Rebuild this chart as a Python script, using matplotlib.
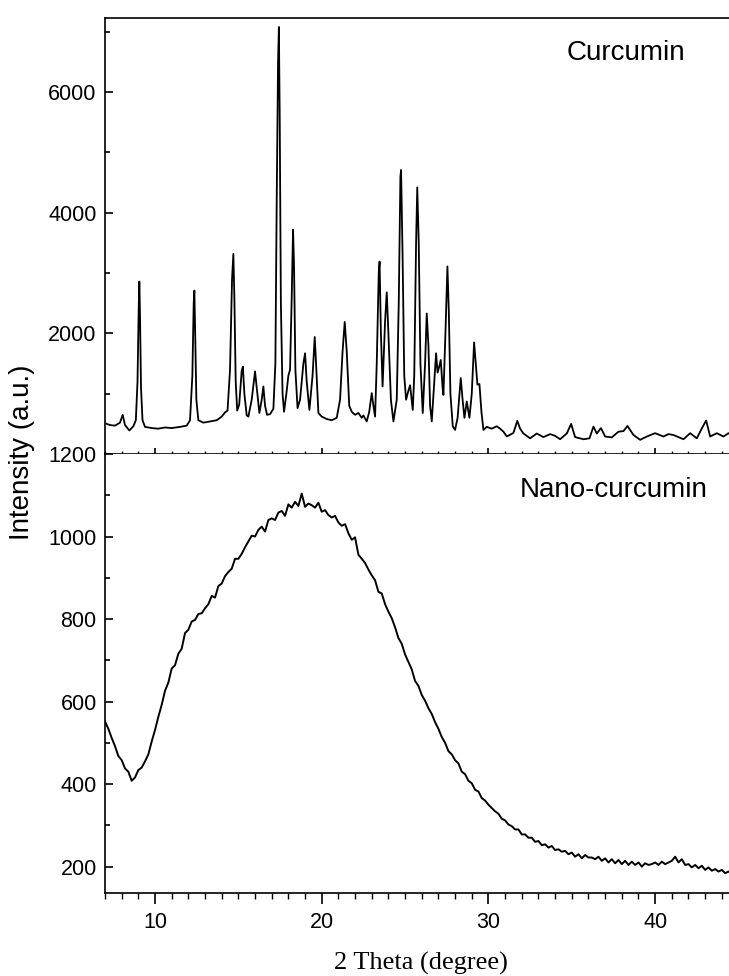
import numpy as np
import matplotlib
matplotlib.use("Agg")
import matplotlib.pyplot as plt
from matplotlib.ticker import MultipleLocator, FixedLocator

# ---------------- data ----------------
curcumin_theta = [7.0, 7.3, 7.6, 7.9, 8.06, 8.2, 8.46, 8.7, 8.85, 8.95, 9.02, 9.06, 9.1, 9.16, 9.25, 9.4,
                  9.8, 10.2, 10.6, 11.0, 11.5, 11.9, 12.1, 12.24, 12.32, 12.36, 12.41, 12.48, 12.6, 12.9,
                  13.3, 13.7, 14.0, 14.2, 14.35, 14.5, 14.62, 14.7, 14.76, 14.84, 14.93, 15.05, 15.2, 15.27,
                  15.36, 15.5, 15.6, 15.8, 16.0, 16.1, 16.26, 16.4, 16.5, 16.6, 16.72, 16.9, 17.1, 17.22,
                  17.3, 17.38, 17.43, 17.48, 17.55, 17.65, 17.74, 17.88, 18.0, 18.1, 18.2, 18.28, 18.34,
                  18.42, 18.55, 18.7, 18.9, 19.0, 19.1, 19.26, 19.45, 19.58, 19.66, 19.8, 20.0, 20.3, 20.6,
                  20.9, 21.1, 21.25, 21.38, 21.5, 21.65, 21.8, 22.0, 22.2, 22.4, 22.5, 22.7, 22.85, 23.0,
                  23.1, 23.2, 23.3, 23.42, 23.47, 23.55, 23.65, 23.8, 23.9, 24.0, 24.15, 24.3, 24.5, 24.62,
                  24.72, 24.76, 24.85, 24.95, 25.06, 25.2, 25.3, 25.46, 25.55, 25.66, 25.73, 25.82, 25.92,
                  26.06, 26.2, 26.3, 26.4, 26.5, 26.6, 26.75, 26.86, 26.95, 27.05, 27.14, 27.25, 27.3,
                  27.42, 27.54, 27.62, 27.72, 27.86, 28.0, 28.15, 28.34, 28.45, 28.56, 28.7, 28.86, 29.0,
                  29.14, 29.24, 29.34, 29.46, 29.58, 29.7, 29.9, 30.2, 30.5, 30.7, 30.9, 31.1, 31.5, 31.73,
                  31.9, 32.1, 32.5, 32.9, 33.3, 33.7, 34.0, 34.3, 34.7, 34.96, 35.2, 35.7, 36.06, 36.3,
                  36.5, 36.75, 37.0, 37.4, 37.8, 38.1, 38.34, 38.7, 39.1, 39.5, 40.0, 40.5, 40.8, 41.1,
                  41.4, 41.7, 42.1, 42.5, 42.8, 43.06, 43.3, 43.7, 44.1, 44.4, 44.6]
curcumin_int = [510, 480, 470, 520, 650, 480, 390, 460, 560, 1200, 2400, 2860, 2300, 1100, 560, 450,
                430, 420, 440, 430, 450, 470, 560, 1300, 2500, 2710, 2000, 900, 560, 520,
                540, 560, 620, 690, 720, 1400, 2900, 3320, 2600, 1200, 720, 820, 1380, 1450,
                1000, 640, 620, 900, 1370, 1100, 680, 900, 1120, 800, 650, 660, 750, 1500,
                4200, 6500, 7080, 5600, 2500, 1000, 700, 1000, 1300, 1400, 2600, 3720, 3100,
                1400, 760, 900, 1500, 1670, 1200, 730, 1300, 1940, 1500, 680, 620, 580, 560,
                600, 900, 1700, 2190, 1700, 800, 700, 650, 680, 600, 640, 540, 700, 1010,
                800, 620, 1500, 3000, 3190, 2000, 1120, 2200, 2680, 2000, 900, 540, 900, 2500,
                4600, 4710, 3300, 1300, 900, 1050, 1140, 730, 1300, 3500, 4420, 3500, 1500,
                680, 1500, 2330, 1800, 800, 540, 1200, 1670, 1350, 1450, 1560, 1100, 980,
                2000, 3110, 2400, 1000, 460, 400, 600, 1260, 900, 600, 870, 600, 1000,
                1850, 1500, 1150, 1160, 700, 400, 450, 420, 460, 420, 370, 290, 350, 550,
                420, 340, 260, 340, 280, 330, 300, 245, 340, 500, 280, 245, 260, 455,
                340, 430, 290, 275, 370, 380, 465, 315, 235, 290, 345, 290, 330, 315,
                280, 245, 345, 260, 425, 555, 290, 345, 290, 345, 300]

nano_theta = np.round(np.arange(7.0, 44.61, 0.2), 2)
nano_int = [552, 534, 512, 492, 468, 458, 438, 430, 408, 416,
            434, 440, 455, 472, 503, 531, 563, 592, 626, 646,
            680, 688, 716, 728, 766, 774, 794, 798, 812, 814,
            826, 836, 856, 852, 880, 886, 904, 914, 922, 946,
            946, 958, 974, 988, 1002, 1000, 1016, 1024, 1012, 1040,
            1044, 1040, 1058, 1062, 1050, 1078, 1070, 1084, 1074, 1104,
            1072, 1080, 1076, 1070, 1082, 1060, 1064, 1052, 1046, 1050,
            1034, 1026, 1030, 1008, 992, 998, 956, 946, 936, 920,
            906, 894, 866, 862, 836, 818, 802, 780, 754, 740,
            714, 696, 678, 650, 638, 616, 602, 584, 570, 550,
            534, 514, 500, 480, 472, 458, 450, 430, 424, 408,
            402, 386, 382, 366, 360, 350, 342, 334, 328, 316,
            312, 302, 298, 290, 290, 278, 278, 270, 270, 260,
            262, 252, 254, 246, 250, 240, 242, 236, 238, 230,
            234, 224, 230, 220, 228, 222, 222, 218, 224, 214,
            220, 210, 218, 208, 216, 206, 214, 204, 212, 204,
            210, 200, 208, 204, 206, 210, 204, 212, 206, 210,
            214, 224, 210, 218, 204, 206, 198, 204, 196, 202,
            192, 198, 190, 194, 188, 192, 184, 188, 182]

top_yticks = [2000, 4000, 6000]
bottom_yticks = [200, 400, 600, 800, 1000, 1200]
x_ticks = [10, 20, 30, 40]
labels = ["Curcumin", "Nano-curcumin"]

# ---------------- figure ----------------
plt.rcParams['font.family'] = ['Liberation Sans', 'DejaVu Sans']
W, H = 729, 976
fig = plt.figure(figsize=(W / 100, H / 100), dpi=100)

x0 = 105 / W
wid = (738.5 - 105) / W
ax_top = fig.add_axes([x0, 1 - 454 / H, wid, (454 - 18) / H])
ax_bot = fig.add_axes([x0, 1 - 893 / H, wid, (893 - 454) / H])

for ax in (ax_top, ax_bot):
    for s in ax.spines.values():
        s.set_linewidth(1.2)
    ax.set_xlim(7, 45)

ax_top.plot(curcumin_theta, curcumin_int, color='black', lw=1.3)
ax_bot.plot(nano_theta, nano_int, color='black', lw=1.4)

ax_top.set_ylim(0, 7230)
ax_bot.set_ylim(136, 1200)

# top panel ticks
ax_top.yaxis.set_major_locator(FixedLocator(top_yticks))
ax_top.yaxis.set_minor_locator(FixedLocator([1000, 3000, 5000, 7000]))
ax_top.xaxis.set_major_locator(FixedLocator(x_ticks))
ax_top.xaxis.set_minor_locator(MultipleLocator(1))
ax_top.tick_params(axis='y', which='major', direction='in', length=6, width=1.2,
                   labelsize=15.5, pad=6, right=False)
ax_top.tick_params(axis='y', which='minor', direction='in', length=3.5, width=1.2, right=False)
ax_top.tick_params(axis='x', which='major', direction='inout', length=8, width=1.2,
                   labelbottom=False, top=False)
ax_top.tick_params(axis='x', which='minor', direction='inout', length=5, width=1.0, top=False)

# bottom panel ticks
ax_bot.yaxis.set_major_locator(FixedLocator(bottom_yticks))
ax_bot.yaxis.set_minor_locator(FixedLocator([300, 500, 700, 900, 1100]))
ax_bot.xaxis.set_major_locator(FixedLocator(x_ticks))
ax_bot.xaxis.set_minor_locator(MultipleLocator(1))
ax_bot.tick_params(axis='y', which='major', direction='in', length=6, width=1.2,
                   labelsize=15.5, pad=6, right=False)
ax_bot.tick_params(axis='y', which='minor', direction='in', length=3.5, width=1.2, right=False)
ax_bot.tick_params(axis='x', which='major', direction='out', length=8, width=1.2,
                   labelsize=15.5, pad=6, top=False)
ax_bot.tick_params(axis='x', which='minor', direction='out', length=4, width=1.0, top=False)
ax_bot.spines['top'].set_visible(False)

fig.text(626 / W, 1 - 53 / H, labels[0], fontsize=20, ha='center', va='center')
fig.text(614 / W, 1 - 490 / H, labels[1], fontsize=20, ha='center', va='center')
fig.text(421 / W, 1 - 963 / H, "2 Theta (degree)", fontsize=19, ha='center', va='center',
         family=['Liberation Serif', 'DejaVu Serif'])
fig.text(22 / W, 1 - 452 / H, "Intensity (a.u.)", fontsize=20, ha='center', va='center',
         rotation=90)

fig.savefig("out.png", dpi=100)
